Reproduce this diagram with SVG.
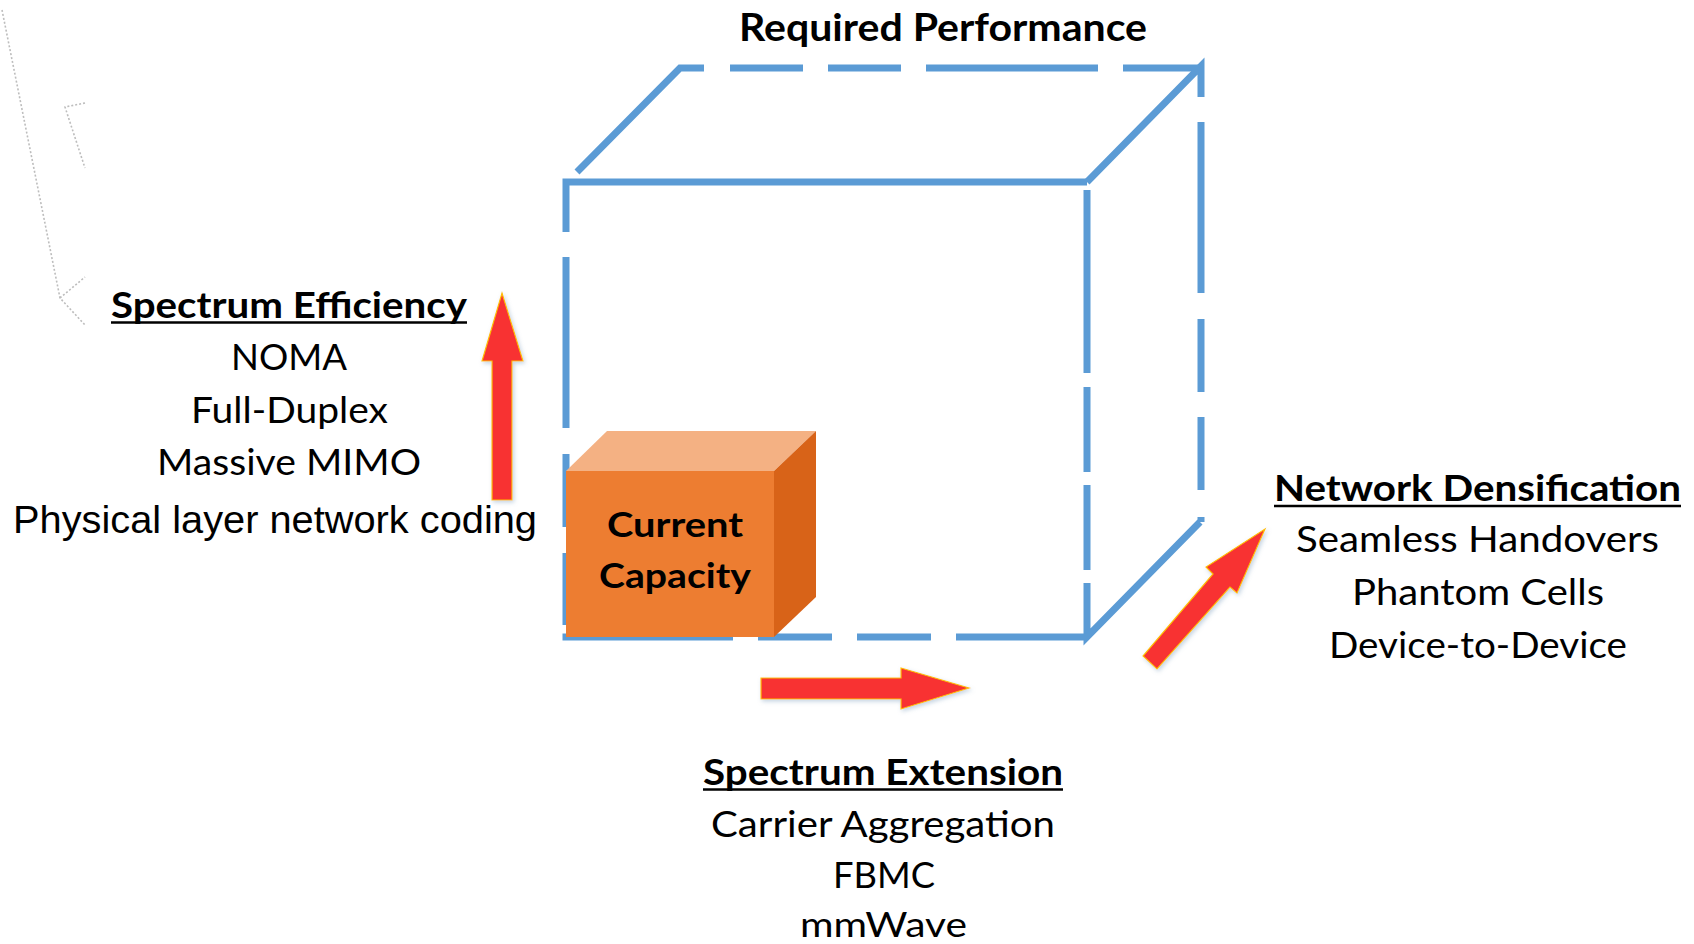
<svg xmlns="http://www.w3.org/2000/svg" width="1694" height="944" viewBox="0 0 1694 944">
<defs>
<style>
.edge{fill:none;stroke:#5B9BD5;stroke-width:7;stroke-linecap:butt;stroke-linejoin:miter;stroke-miterlimit:10}
.faint{fill:none;stroke:#BDBDBD;stroke-width:1.6;stroke-dasharray:2 2}
.arrow{fill:#F83232;stroke:#FFC000;stroke-width:1.2;filter:url(#sh)}
.cal{font-family:Lato,"Open Sans","Liberation Sans",sans-serif;fill:#000}
.b{font-weight:bold}
.ar{font-family:"Liberation Sans",Arial,sans-serif;fill:#000}
.ul{stroke:#000;stroke-width:2.5}
</style>
<filter id="sh" x="-20%" y="-20%" width="140%" height="140%">
<feDropShadow dx="1.5" dy="2" stdDeviation="2" flood-color="#7F9FC0" flood-opacity="0.45"/>
</filter>
</defs>
<rect width="1694" height="944" fill="#fff"/>

<g id="faint-lines">
<path class="faint" d="M2,10 L60,298 L85,325 M60,298 L85,277 M85,103 L65,107 L85,168"/>
</g>

<g id="required-performance">
<path class="edge" d="M566,232 V182 H1087"/>
<path class="edge" d="M566,257 V428 M566,454 V527 M566,553 V625"/>
<path class="edge" d="M577,172 L680,68 H704 M730,68 H803 M828,68 H901 M926,68 H1098 M1123,68 H1198"/>
<path class="edge" d="M1087,182 L1201,66 V97"/>
<path class="edge" d="M1201,122 V293 M1201,319 V392 M1201,417 V490 M1201,517 V522"/>
<path class="edge" d="M1087,190 V373 M1087,387 V472 M1087,485 V570"/>
<path class="edge" d="M1087,583 V637 L1200,522"/>
<path class="edge" d="M562.5,637 H733 M758,637 H832 M857,637 H931 M956,637 H1087"/>
<text class="cal b" x="739" y="41" font-size="38" textLength="408" lengthAdjust="spacingAndGlyphs">Required Performance</text>
</g>

<g id="current-capacity">
<polygon points="566,471 607,431 816,431 774,471" fill="#F4B183"/>
<polygon points="774,471 816,431 816,597 774,637" fill="#D86318"/>
<rect x="566" y="471" width="208" height="166" fill="#ED7D31"/>
<text class="cal b" x="607" y="537" font-size="35" textLength="136" lengthAdjust="spacingAndGlyphs">Current</text>
<text class="cal b" x="599" y="588" font-size="35" textLength="152" lengthAdjust="spacingAndGlyphs">Capacity</text>
</g>

<g id="spectrum-efficiency">
<text class="cal b" x="111" y="318" font-size="37" textLength="356" lengthAdjust="spacingAndGlyphs">Spectrum Efficiency</text>
<line class="ul" x1="111" y1="322.5" x2="467" y2="322.5"/>
<text class="cal" x="231" y="370" font-size="36" textLength="116" lengthAdjust="spacingAndGlyphs">NOMA</text>
<text class="cal" x="191" y="423" font-size="36" textLength="197" lengthAdjust="spacingAndGlyphs">Full-Duplex</text>
<text class="cal" x="157" y="475" font-size="36" textLength="264" lengthAdjust="spacingAndGlyphs">Massive MIMO</text>
<text class="ar" x="13" y="533" font-size="38" textLength="524" lengthAdjust="spacingAndGlyphs">Physical layer network coding</text>
</g>

<g id="network-densification">
<text class="cal b" x="1274" y="501" font-size="37" textLength="407" lengthAdjust="spacingAndGlyphs">Network Densification</text>
<line class="ul" x1="1274" y1="506" x2="1681" y2="506"/>
<text class="cal" x="1296" y="552" font-size="36" textLength="363" lengthAdjust="spacingAndGlyphs">Seamless Handovers</text>
<text class="cal" x="1352" y="605" font-size="36" textLength="252" lengthAdjust="spacingAndGlyphs">Phantom Cells</text>
<text class="cal" x="1329" y="658" font-size="36" textLength="298" lengthAdjust="spacingAndGlyphs">Device-to-Device</text>
</g>

<g id="spectrum-extension">
<text class="cal b" x="703" y="785" font-size="37" textLength="360" lengthAdjust="spacingAndGlyphs">Spectrum Extension</text>
<line class="ul" x1="703" y1="789.5" x2="1063" y2="789.5"/>
<text class="cal" x="711" y="837" font-size="36" textLength="344" lengthAdjust="spacingAndGlyphs">Carrier Aggregation</text>
<text class="cal" x="833" y="888" font-size="36" textLength="102" lengthAdjust="spacingAndGlyphs">FBMC</text>
<text class="cal" x="800" y="937" font-size="35" textLength="167" lengthAdjust="spacingAndGlyphs">mmWave</text>
</g>

<g id="connectors">
<polygon class="arrow" points="502,293 523,361 512,361 512,500 492,500 492,361 482,361"/>
<polygon class="arrow" points="761,678 901,678 901,668 969,688 901,709 901,699 761,699"/>
<polygon class="arrow" points="1265,529 1237,593 1230,587 1157,669 1143,656 1213,574 1206,567"/>
</g>
</svg>
